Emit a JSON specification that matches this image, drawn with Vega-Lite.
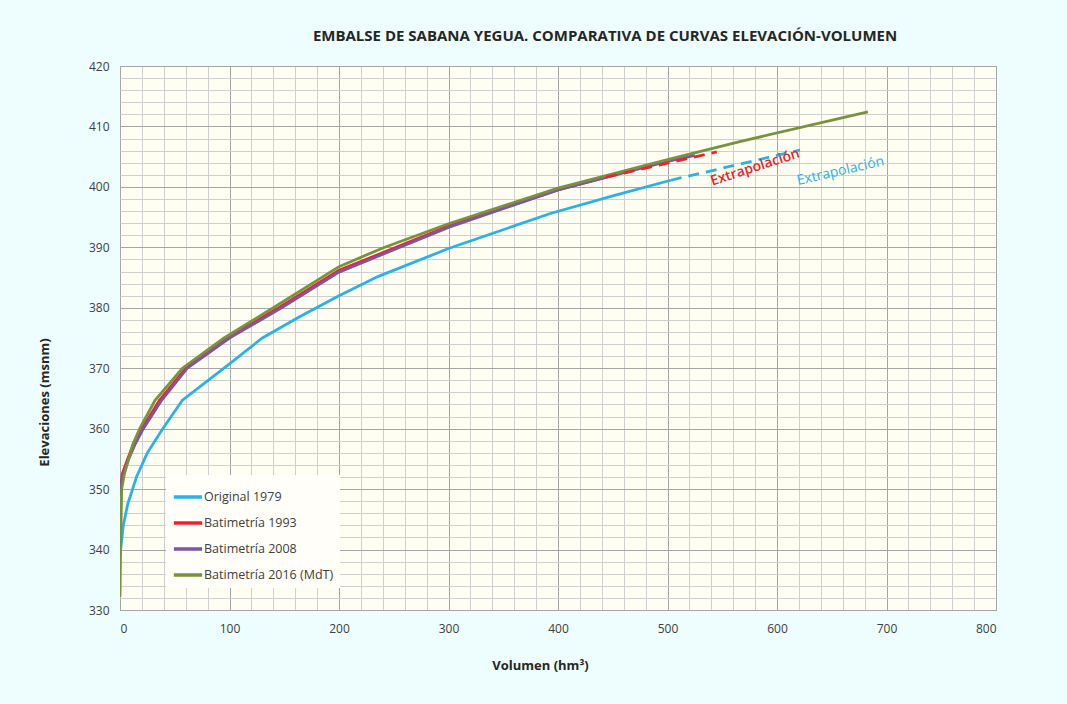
{
  "$schema": "https://vega.github.io/schema/vega-lite/v6.json",
  "autosize": {"type": "none"},
  "width": 876,
  "height": 544,
  "padding": {"left": 120, "top": 66, "right": 71, "bottom": 94},
  "background": "#eefdfd",
  "title": {
    "text": "EMBALSE DE SABANA YEGUA. COMPARATIVA DE CURVAS ELEVACIÓN-VOLUMEN",
    "font": "Open Sans",
    "fontSize": 15,
    "fontWeight": "bold",
    "color": "#262626",
    "anchor": "middle",
    "dx": 47,
    "offset": 16
  },
  "config": {
    "view": {"fill": "#fffef2", "stroke": "#a6a6a6", "strokeWidth": 1},
    "axis": {
      "labelFont": "Open Sans",
      "labelFontSize": 12,
      "labelColor": "#404040",
      "labelOverlap": false,
      "tickCount": 200,
      "format": "d",
      "titleFont": "Open Sans",
      "titleFontSize": 13,
      "titleFontWeight": "bold",
      "titleColor": "#262626",
      "ticks": false,
      "domain": false,
      "gridOpacity": 1,
      "gridWidth": 1
    }
  },
  "datasets": {
    "curvas": [
      {"serie": "Original 1979", "tramo": "medido", "vol": 0, "elev": 339},
      {"serie": "Original 1979", "tramo": "medido", "vol": 3, "elev": 344},
      {"serie": "Original 1979", "tramo": "medido", "vol": 7, "elev": 347.5},
      {"serie": "Original 1979", "tramo": "medido", "vol": 11.5, "elev": 350},
      {"serie": "Original 1979", "tramo": "medido", "vol": 15, "elev": 352},
      {"serie": "Original 1979", "tramo": "medido", "vol": 25, "elev": 356},
      {"serie": "Original 1979", "tramo": "medido", "vol": 39, "elev": 360},
      {"serie": "Original 1979", "tramo": "medido", "vol": 57, "elev": 364.7},
      {"serie": "Original 1979", "tramo": "medido", "vol": 95, "elev": 370},
      {"serie": "Original 1979", "tramo": "medido", "vol": 130, "elev": 375},
      {"serie": "Original 1979", "tramo": "medido", "vol": 164, "elev": 378.5},
      {"serie": "Original 1979", "tramo": "medido", "vol": 200, "elev": 382},
      {"serie": "Original 1979", "tramo": "medido", "vol": 236, "elev": 385.2},
      {"serie": "Original 1979", "tramo": "medido", "vol": 300, "elev": 389.8},
      {"serie": "Original 1979", "tramo": "medido", "vol": 393, "elev": 395.6},
      {"serie": "Original 1979", "tramo": "medido", "vol": 450, "elev": 398.5},
      {"serie": "Original 1979", "tramo": "medido", "vol": 503, "elev": 401.1},
      {"serie": "Original 1979", "tramo": "extrapolado", "vol": 503, "elev": 401.1},
      {"serie": "Original 1979", "tramo": "extrapolado", "vol": 621, "elev": 406.1},
      {"serie": "Batimetría 1993", "tramo": "medido", "vol": 0, "elev": 349.5},
      {"serie": "Batimetría 1993", "tramo": "medido", "vol": 2, "elev": 352.5},
      {"serie": "Batimetría 1993", "tramo": "medido", "vol": 7, "elev": 355},
      {"serie": "Batimetría 1993", "tramo": "medido", "vol": 13, "elev": 357.8},
      {"serie": "Batimetría 1993", "tramo": "medido", "vol": 20, "elev": 360},
      {"serie": "Batimetría 1993", "tramo": "medido", "vol": 36, "elev": 364.7},
      {"serie": "Batimetría 1993", "tramo": "medido", "vol": 60, "elev": 370},
      {"serie": "Batimetría 1993", "tramo": "medido", "vol": 98, "elev": 375},
      {"serie": "Batimetría 1993", "tramo": "medido", "vol": 145, "elev": 380},
      {"serie": "Batimetría 1993", "tramo": "medido", "vol": 200, "elev": 386.2},
      {"serie": "Batimetría 1993", "tramo": "medido", "vol": 300, "elev": 393.5},
      {"serie": "Batimetría 1993", "tramo": "medido", "vol": 400, "elev": 399.5},
      {"serie": "Batimetría 1993", "tramo": "medido", "vol": 444, "elev": 401.6},
      {"serie": "Batimetría 1993", "tramo": "extrapolado", "vol": 444, "elev": 401.6},
      {"serie": "Batimetría 1993", "tramo": "extrapolado", "vol": 545, "elev": 405.8},
      {"serie": "Batimetría 2008", "tramo": "medido", "vol": 0, "elev": 349},
      {"serie": "Batimetría 2008", "tramo": "medido", "vol": 2, "elev": 352},
      {"serie": "Batimetría 2008", "tramo": "medido", "vol": 8, "elev": 355},
      {"serie": "Batimetría 2008", "tramo": "medido", "vol": 14, "elev": 357.5},
      {"serie": "Batimetría 2008", "tramo": "medido", "vol": 21.3, "elev": 360},
      {"serie": "Batimetría 2008", "tramo": "medido", "vol": 38, "elev": 364.7},
      {"serie": "Batimetría 2008", "tramo": "medido", "vol": 61.5, "elev": 370},
      {"serie": "Batimetría 2008", "tramo": "medido", "vol": 100, "elev": 375},
      {"serie": "Batimetría 2008", "tramo": "medido", "vol": 147.6, "elev": 380},
      {"serie": "Batimetría 2008", "tramo": "medido", "vol": 200, "elev": 385.9},
      {"serie": "Batimetría 2008", "tramo": "medido", "vol": 300, "elev": 393.3},
      {"serie": "Batimetría 2008", "tramo": "medido", "vol": 400, "elev": 399.5},
      {"serie": "Batimetría 2008", "tramo": "medido", "vol": 500, "elev": 404.2},
      {"serie": "Batimetría 2008", "tramo": "medido", "vol": 525, "elev": 405.2},
      {"serie": "Batimetría 2016 (MdT)", "tramo": "medido", "vol": 0, "elev": 332.2},
      {"serie": "Batimetría 2016 (MdT)", "tramo": "medido", "vol": 0.5, "elev": 340},
      {"serie": "Batimetría 2016 (MdT)", "tramo": "medido", "vol": 1.5, "elev": 350},
      {"serie": "Batimetría 2016 (MdT)", "tramo": "medido", "vol": 4, "elev": 352.5},
      {"serie": "Batimetría 2016 (MdT)", "tramo": "medido", "vol": 7.6, "elev": 354.8},
      {"serie": "Batimetría 2016 (MdT)", "tramo": "medido", "vol": 12, "elev": 357.5},
      {"serie": "Batimetría 2016 (MdT)", "tramo": "medido", "vol": 18, "elev": 360},
      {"serie": "Batimetría 2016 (MdT)", "tramo": "medido", "vol": 32, "elev": 364.7},
      {"serie": "Batimetría 2016 (MdT)", "tramo": "medido", "vol": 57, "elev": 370},
      {"serie": "Batimetría 2016 (MdT)", "tramo": "medido", "vol": 95, "elev": 375},
      {"serie": "Batimetría 2016 (MdT)", "tramo": "medido", "vol": 140, "elev": 380},
      {"serie": "Batimetría 2016 (MdT)", "tramo": "medido", "vol": 200, "elev": 386.8},
      {"serie": "Batimetría 2016 (MdT)", "tramo": "medido", "vol": 240, "elev": 389.9},
      {"serie": "Batimetría 2016 (MdT)", "tramo": "medido", "vol": 300, "elev": 393.9},
      {"serie": "Batimetría 2016 (MdT)", "tramo": "medido", "vol": 400, "elev": 399.8},
      {"serie": "Batimetría 2016 (MdT)", "tramo": "medido", "vol": 500, "elev": 404.5},
      {"serie": "Batimetría 2016 (MdT)", "tramo": "medido", "vol": 566, "elev": 407.5},
      {"serie": "Batimetría 2016 (MdT)", "tramo": "medido", "vol": 683, "elev": 412.4}
    ],
    "notas": [
      {"serie": "Batimetría 1993", "vol": 580, "elev": 403.2, "texto": "Extrapolación"},
      {"serie": "Original 1979", "vol": 658, "elev": 402.6, "texto": "Extrapolación"}
    ]
  },
  "layer": [
    {
      "data": {"name": "curvas"},
      "transform": [{"filter": "datum.tramo === 'medido'"}],
      "mark": {"type": "line", "strokeWidth": 2.8, "clip": true},
      "encoding": {
        "x": {
          "field": "vol", "type": "quantitative",
          "scale": {"domain": [0, 800], "nice": false, "zero": false},
          "axis": {
            "title": "Volumen (hm³)",
            "values": [0,20,40,60,80,100,120,140,160,180,200,220,240,260,280,300,320,340,360,380,400,420,440,460,480,500,520,540,560,580,600,620,640,660,680,700,720,740,760,780,800],
            "labelExpr": "datum.value % 100 === 0 ? datum.label : ''",
            "labelPadding": 13,
            "titlePadding": 25,
            "titleX": 420,
            "gridColor": {"condition": {"test": "datum.value % 100 === 0", "value": "#a6a6a6"}, "value": "#cfcfcf"}
          }
        },
        "y": {
          "field": "elev", "type": "quantitative",
          "scale": {"domain": [330, 420], "nice": false, "zero": false},
          "axis": {
            "title": "Elevaciones (msnm)",
            "values": [330,332,334,336,338,340,342,344,346,348,350,352,354,356,358,360,362,364,366,368,370,372,374,376,378,380,382,384,386,388,390,392,394,396,398,400,402,404,406,408,410,412,414,416,418,420],
            "labelExpr": "datum.value % 10 === 0 ? datum.label : ''",
            "labelPadding": 11,
            "titlePadding": 37,
            "titleY": 336,
            "gridColor": {"condition": {"test": "datum.value % 10 === 0", "value": "#a6a6a6"}, "value": "#cfcfcf"}
          }
        },
        "color": {
          "field": "serie", "type": "nominal",
          "scale": {
            "domain": ["Original 1979", "Batimetría 1993", "Batimetría 2008", "Batimetría 2016 (MdT)"],
            "range": ["#29b2ea", "#f2202b", "#7d55a3", "#77933c"]
          },
          "legend": {
            "title": null,
            "orient": "none",
            "legendX": 46,
            "legendY": 409,
            "fillColor": "#fffef8",
            "padding": 6,
            "symbolType": "stroke",
            "symbolStrokeWidth": 3.5,
            "symbolSize": 800,
            "labelFont": "Open Sans",
            "labelFontSize": 12.5,
            "labelColor": "#404040",
            "labelOffset": 0,
            "rowPadding": 3,
            "labelLimit": 200
          }
        },
        "order": {"field": "vol", "type": "quantitative"}
      }
    },
    {
      "data": {"name": "curvas"},
      "transform": [{"filter": "datum.tramo === 'extrapolado'"}],
      "mark": {"type": "line", "strokeWidth": 2.8, "strokeDash": [11, 7]},
      "encoding": {
        "x": {"field": "vol", "type": "quantitative"},
        "y": {"field": "elev", "type": "quantitative"},
        "color": {"field": "serie", "type": "nominal"}
      }
    },
    {
      "data": {"name": "notas"},
      "transform": [{"filter": "datum.serie === 'Batimetría 1993'"}],
      "mark": {"type": "text", "angle": 342, "fontSize": 14, "font": "Open Sans", "fontWeight": 600, "color": "#f2202b"},
      "encoding": {
        "x": {"field": "vol", "type": "quantitative"},
        "y": {"field": "elev", "type": "quantitative"},
        "text": {"field": "texto"}
      }
    },
    {
      "data": {"name": "notas"},
      "transform": [{"filter": "datum.serie === 'Original 1979'"}],
      "mark": {"type": "text", "angle": 347, "fontSize": 14, "font": "Open Sans", "fontWeight": "normal", "color": "#29b2ea"},
      "encoding": {
        "x": {"field": "vol", "type": "quantitative"},
        "y": {"field": "elev", "type": "quantitative"},
        "text": {"field": "texto"}
      }
    }
  ]
}
